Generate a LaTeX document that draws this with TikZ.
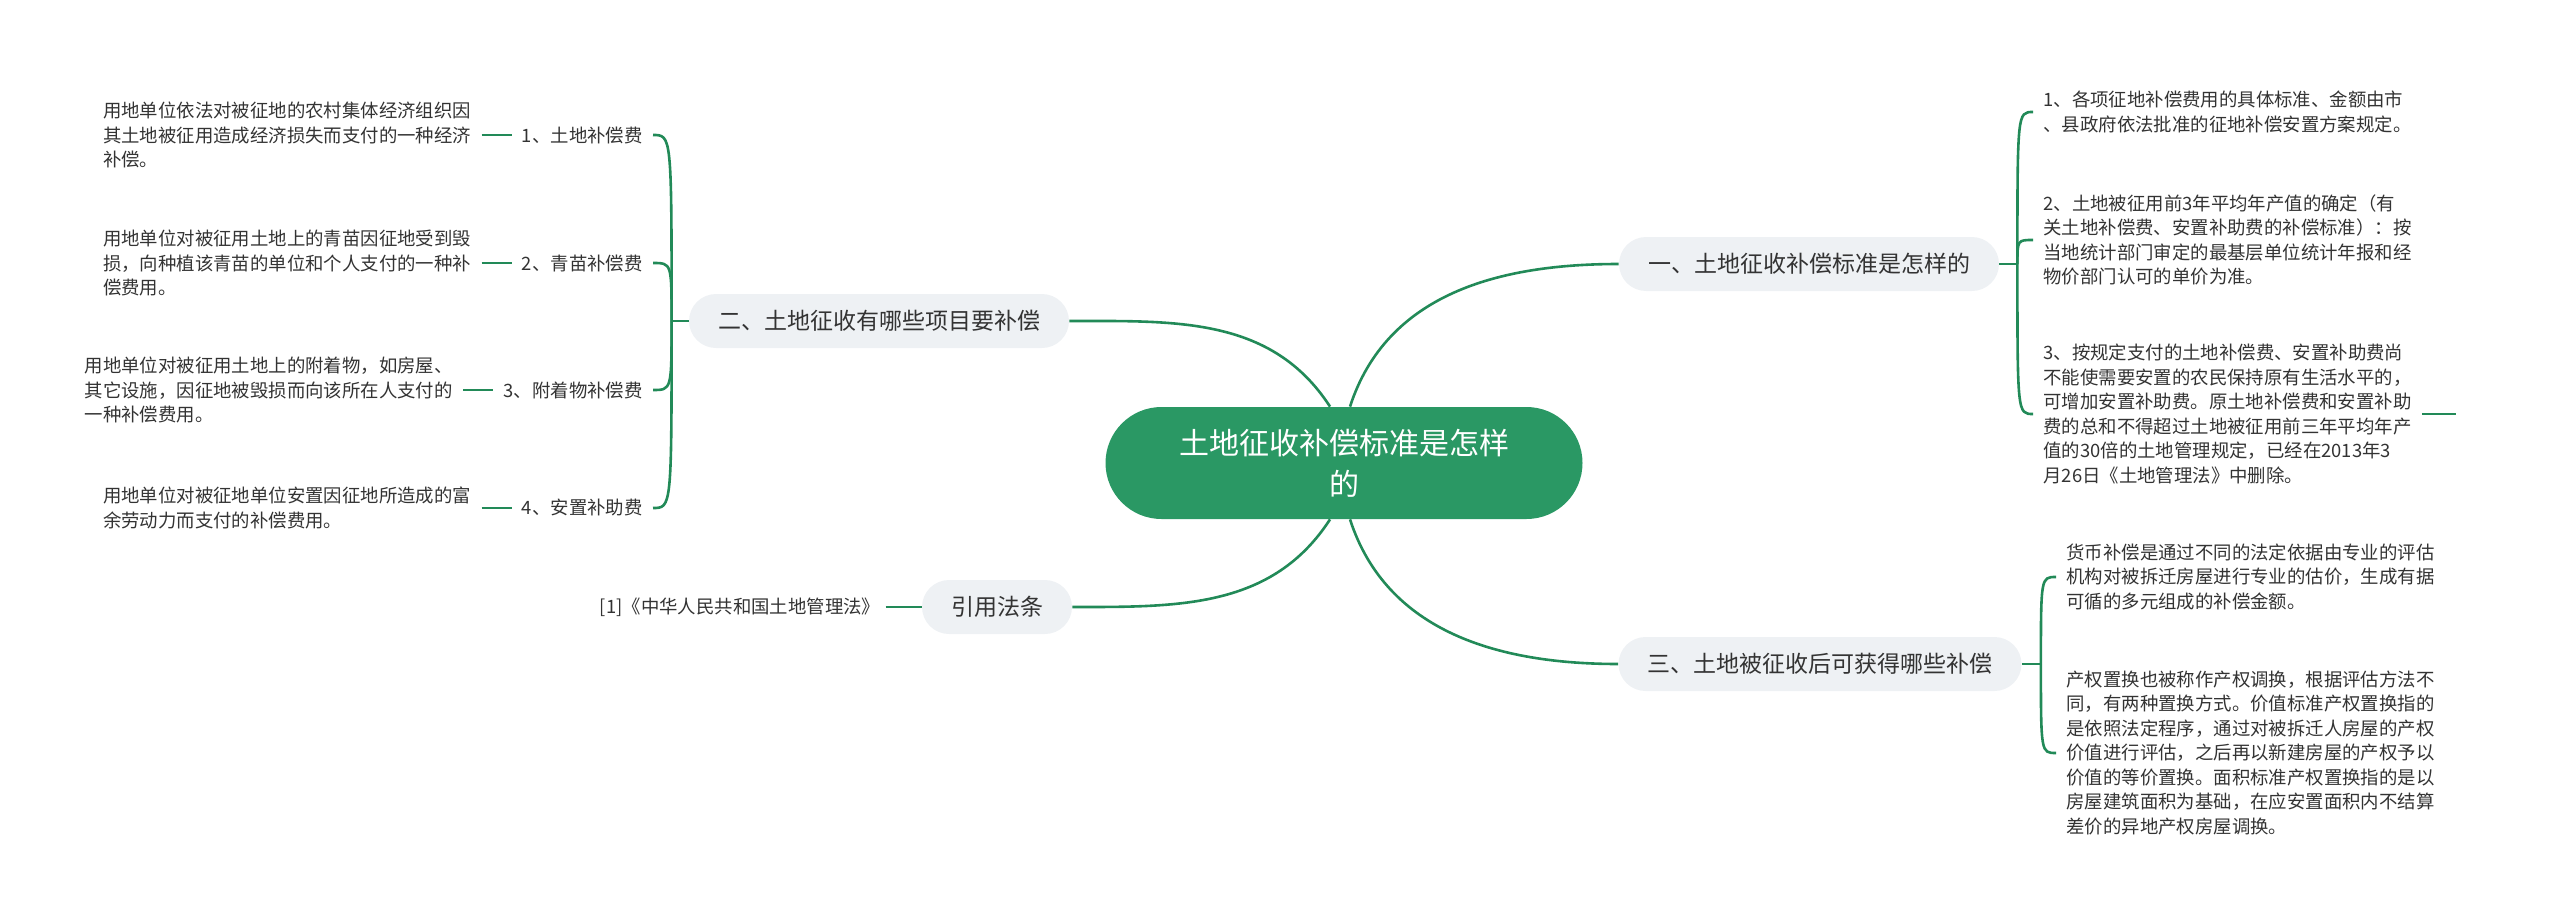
\documentclass[tikz,border=0pt]{standalone}
\usepackage{fontspec}
\setmainfont{Noto Sans CJK SC}
\usetikzlibrary{positioning, calc}

\definecolor{rootgreen}{RGB}{42,152,100}
\definecolor{linkgreen}{RGB}{34,138,88}
\definecolor{branchgray}{RGB}{238,241,244}
\definecolor{textgray}{RGB}{51,51,51}

\begin{document}
\begin{tikzpicture}[
    x=0.5pt, y=-0.5pt,
    rootbox/.style={rectangle, rounded corners=28pt, fill=rootgreen, text=white, minimum width=238.5pt, minimum height=56pt, align=center, font=\fontsize{15}{20.5}\selectfont},
    branchbox/.style={rectangle, rounded corners=13.5pt, fill=branchgray, text=textgray, minimum height=27pt, inner xsep=14.5pt, font=\fontsize{11.5}{14}\selectfont},
    leaflabel/.style={inner sep=5pt, text=textgray, font=\fontsize{9.2}{12.25}\selectfont},
    leaftext/.style={inner sep=5pt, text=textgray, align=left, font=\fontsize{9.2}{12.25}\selectfont},
    link/.style={draw=linkgreen, line width=1.3pt}
]
    \useasboundingbox (0,0) rectangle (2560,921);

    % centre and main branches
    \node[rootbox] (root) at (1344,463) {土地征收补偿标准是怎样\\的};
    \node[branchbox] (standard) at (1809,264) {一、土地征收补偿标准是怎样的};
    \node[branchbox] (items) at (879,321) {二、土地征收有哪些项目要补偿};
    \node[branchbox] (after) at (1820,664) {三、土地被征收后可获得哪些补偿};
    \node[branchbox] (law) at (997,607) {引用法条};

    \draw[link] ([xshift=3pt]root.north) to[out=72,in=180] (standard.west);
    \draw[link] ([xshift=-7pt]root.north) to[out=123,in=0] (items.east);
    \draw[link] ([xshift=3pt]root.south) to[out=-72,in=180] (after.west);
    \draw[link] ([xshift=-7pt]root.south) to[out=-123,in=0] (law.east);

    % left: compensation items
    \node[leaflabel, anchor=east] (land) at (653,135) {1、土地补偿费};
    \node[leaflabel, anchor=east] (crops) at (653,263) {2、青苗补偿费};
    \node[leaflabel, anchor=east] (fixtures) at (653,390) {3、附着物补偿费};
    \node[leaflabel, anchor=east] (resettle) at (653,508) {4、安置补助费};

    \node[leaftext, left=15pt of land] (landtxt) {用地单位依法对被征地的农村集体经济组织因\\其土地被征用造成经济损失而支付的一种经济\\补偿。};
    \node[leaftext, left=15pt of crops] (cropstxt) {用地单位对被征用土地上的青苗因征地受到毁\\损，向种植该青苗的单位和个人支付的一种补\\偿费用。};
    \node[leaftext, left=15pt of fixtures] (fixturestxt) {用地单位对被征用土地上的附着物，如房屋、\\其它设施，因征地被毁损而向该所在人支付的\\一种补偿费用。};
    \node[leaftext, left=15pt of resettle] (resettletxt) {用地单位对被征地单位安置因征地所造成的富\\余劳动力而支付的补偿费用。};

    \coordinate (itemsfork) at ($(items.west)+(-17,0)$);
    \draw[link] (items.west) -- (itemsfork);
    \foreach \leaf in {land, crops, fixtures, resettle}
        \draw[link] (itemsfork) .. controls (itemsfork |- \leaf.east) .. (\leaf.east);
    \foreach \leaf in {land, crops, fixtures, resettle}
        \draw[link] (\leaf txt.east) -- (\leaf.west);

    % left: cited law
    \node[leaflabel, inner sep=2.5pt, left=18pt of law] (lawref) {[1]《中华人民共和国土地管理法》};
    \draw[link] (lawref.east) -- (law.west);

    % right: standards
    \node[leaftext, anchor=west] (std1) at (2033,112) {1、各项征地补偿费用的具体标准、金额由市\\、县政府依法批准的征地补偿安置方案规定。};
    \node[leaftext, anchor=west] (std2) at (2033,240) {2、土地被征用前3年平均年产值的确定（有\\关土地补偿费、安置补助费的补偿标准）：按\\当地统计部门审定的最基层单位统计年报和经\\物价部门认可的单价为准。};
    \node[leaftext, anchor=west] (std3) at (2033,414) {3、按规定支付的土地补偿费、安置补助费尚\\不能使需要安置的农民保持原有生活水平的，\\可增加安置补助费。原土地补偿费和安置补助\\费的总和不得超过土地被征用前三年平均年产\\值的30倍的土地管理规定，已经在2013年3\\月26日《土地管理法》中删除。};

    \coordinate (standardfork) at ($(standard.east)+(18,0)$);
    \draw[link] (standard.east) -- (standardfork);
    \foreach \leaf in {std1, std2, std3}
        \draw[link] (standardfork) .. controls (standardfork |- \leaf.west) .. (\leaf.west);
    \coordinate[right=17pt of std3] (std3end);
    \draw[link] (std3.east) -- (std3end);

    % right: compensation after expropriation
    \node[leaftext, anchor=west] (money) at (2056,577) {货币补偿是通过不同的法定依据由专业的评估\\机构对被拆迁房屋进行专业的估价，生成有据\\可循的多元组成的补偿金额。};
    \node[leaftext, anchor=west] (swap) at (2056,753) {产权置换也被称作产权调换，根据评估方法不\\同，有两种置换方式。价值标准产权置换指的\\是依照法定程序，通过对被拆迁人房屋的产权\\价值进行评估，之后再以新建房屋的产权予以\\价值的等价置换。面积标准产权置换指的是以\\房屋建筑面积为基础，在应安置面积内不结算\\差价的异地产权房屋调换。};

    \coordinate (afterfork) at ($(after.east)+(19,0)$);
    \draw[link] (after.east) -- (afterfork);
    \foreach \leaf in {money, swap}
        \draw[link] (afterfork) .. controls (afterfork |- \leaf.west) .. (\leaf.west);

\end{tikzpicture}
\end{document}
